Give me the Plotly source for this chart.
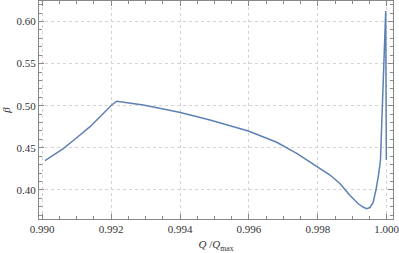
import plotly.graph_objects as go

q_ratio = [0.990081, 0.990372, 0.990612, 0.991010, 0.991388, 0.991707, 0.992017, 0.992163,
           0.992935, 0.993980, 0.994871, 0.995983, 0.996807, 0.997388, 0.997986, 0.998064,
           0.998354, 0.998642, 0.998935, 0.999167, 0.999312, 0.999419, 0.999515, 0.999602,
           0.999689, 0.999762, 0.999820, 0.999971, 0.999990]
beta = [0.43468, 0.44252, 0.44893, 0.46223, 0.47506, 0.48812, 0.50083, 0.50534,
        0.50083, 0.49216, 0.48302, 0.46995, 0.45653, 0.44347, 0.42755, 0.42565,
        0.41770, 0.40760, 0.39335, 0.38385, 0.37969, 0.37779, 0.37910, 0.38444,
        0.39988, 0.41770, 0.43551, 0.61247, 0.43551]

fig = go.Figure(go.Scatter(x=q_ratio, y=beta, mode="lines",
                           line=dict(color="#5E81B5", width=1.5),
                           showlegend=False))

font = dict(family="Liberation Serif, Times New Roman, serif", size=11, color="#333333")
axis_common = dict(showline=True, linecolor="#888888", linewidth=1, mirror="ticks",
                   ticks="inside", ticklen=5, tickcolor="#888888",
                   showgrid=True, gridcolor="#d4d4d4", griddash="dot", gridwidth=1,
                   zeroline=False, tickfont=font, automargin=False,
                   ticklabeloverflow="allow")

fig.update_layout(
    width=399, height=253,
    margin=dict(l=39, r=6, t=1, b=34),
    plot_bgcolor="white", paper_bgcolor="white",
    font=font,
    xaxis=dict(range=[0.989907, 1.000183], dtick=0.002, tick0=0.990, tickformat=".3f",
               minor=dict(dtick=0.0005, ticks="inside", ticklen=3, tickcolor="#888888", showgrid=False),
               title=dict(text="<i>Q</i> /<i>Q</i><sub>max</sub>", font=font, standoff=6),
               **axis_common),
    yaxis=dict(range=[0.36544, 0.62434], dtick=0.05, tick0=0.40, tickformat=".2f",
               minor=dict(dtick=0.01, ticks="inside", ticklen=3, tickcolor="#888888", showgrid=False),
               title=dict(text="<i>β</i>", font=font, standoff=4),
               **axis_common),
)

fig.write_html("out.html", config={"displayModeBar": False},
               post_script="document.body.style.margin='0';document.body.style.overflow='hidden';")
